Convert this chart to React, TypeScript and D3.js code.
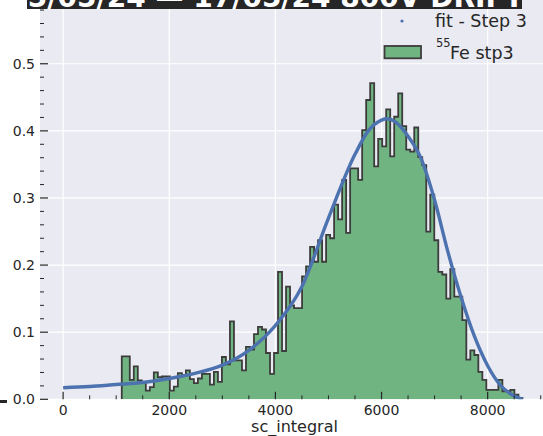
import React from "react";
import * as d3 from "d3";

// ---- data ----
const binStart = 1105;
const binWidth = 75.5;
const histValues = [
  0.064, 0.064, 0.029, 0.049, 0.028, 0.026, 0.013, 0.018, 0.040, 0.033,
  0.034, 0.034, 0.013, 0.019, 0.039, 0.036, 0.043, 0.030, 0.024, 0.031,
  0.038, 0.038, 0.022, 0.041, 0.026, 0.063, 0.052, 0.116, 0.058, 0.058,
  0.043, 0.078, 0.074, 0.097, 0.108, 0.104, 0.069, 0.038, 0.069, 0.190,
  0.072, 0.168, 0.140, 0.136, 0.136, 0.183, 0.198, 0.227, 0.205, 0.237,
  0.205, 0.245, 0.240, 0.290, 0.268, 0.327, 0.248, 0.344, 0.344, 0.327,
  0.401, 0.446, 0.471, 0.347, 0.388, 0.377, 0.432, 0.362, 0.421, 0.456,
  0.407, 0.372, 0.369, 0.405, 0.361, 0.349, 0.250, 0.305, 0.237, 0.190,
  0.186, 0.150, 0.194, 0.153, 0.153, 0.118, 0.059, 0.073, 0.066, 0.041,
  0.029, 0.014, 0.014, 0.014, 0.029, 0.012, 0.012, 0.014, 0.007, 0.002,
];
const fitX = [0, 500, 1000, 1500, 2000, 2500, 3000, 3500, 4000, 4500, 5000, 5500, 5750, 6000, 6100, 6250, 6500, 6750, 7000, 7250, 7500, 7750, 8000, 8250, 8500, 8660];
const fitY = [0.0173, 0.019, 0.022, 0.025, 0.031, 0.039, 0.051, 0.073, 0.110, 0.168, 0.27, 0.365, 0.40, 0.416, 0.418, 0.414, 0.392, 0.358, 0.297, 0.22, 0.152, 0.094, 0.05, 0.02, 0.005, 0.0];
const xMajorTicks = [0, 2000, 4000, 6000, 8000];
const xTickLabels = ["0", "2000", "4000", "6000", "8000"];
const yMajorTicks = [0.0, 0.1, 0.2, 0.3, 0.4, 0.5];
const yTickLabels = ["0.0", "0.1", "0.2", "0.3", "0.4", "0.5"];
const titleText = "15/05/24 — 17/05/24 800V DRIFT";
const xLabelText = "sc_integral";
const legendFitText = "fit - Step 3";
const legendHistSup = "55";
const legendHistText = "Fe stp3";

const FONT = "DejaVu Sans, sans-serif";
const TXT = "#262626";
const BG = "#EAEAF2";
const GREEN = "#70b482";
const BLUE = "#4C72B0";
const EDGE = "#3c3c3c";

export default function App() {
  const W = 543;
  const H = 436;
  const left = 40;
  const right = 549;
  const top = 0;
  const bottom = 399.3;

  const x = d3.scaleLinear().domain([-436, 9156]).range([left, right]);
  const y = d3.scaleLinear().domain([0, 0.595]).range([bottom, top]);

  const edges = d3.range(histValues.length + 1).map((i) => binStart + i * binWidth);
  const stepPts: [number, number][] = [];
  stepPts.push([x(edges[0]), y(0)]);
  histValues.forEach((v, i) => {
    stepPts.push([x(edges[i]), y(v)]);
    stepPts.push([x(edges[i + 1]), y(v)]);
  });
  stepPts.push([x(edges[edges.length - 1]), y(0)]);
  const lineGen = d3.line();
  const outline = lineGen(stepPts) || "";
  const fillPath = outline + "Z";

  const fitLine = d3
    .line<number>()
    .x((_, i) => x(fitX[i]))
    .y((d) => y(d))
    .curve(d3.curveMonotoneX)(fitY) || "";

  const xMinor = d3.range(0, 9001, 500).filter((v) => v % 2000 !== 0);
  const yMinor = d3
    .range(1, 30)
    .map((k) => k * 0.02)
    .filter((v, k) => (k + 1) % 5 !== 0 && v < 0.595);

  return (
    <svg
      width={W}
      height={H}
      style={{ position: "absolute", left: 0, top: 0, background: "#fff" }}
      fontFamily={FONT}
    >
      <defs>
        <clipPath id="plotclip">
          <rect x={left} y={top} width={right - left} height={bottom - top} />
        </clipPath>
      </defs>
      <rect x={left} y={top} width={right - left} height={bottom - top} fill={BG} />
      {/* grid */}
      {xMajorTicks.map((t) => (
        <line key={"gx" + t} x1={x(t)} x2={x(t)} y1={top} y2={bottom} stroke="#fff" strokeWidth={1.2} />
      ))}
      {yMajorTicks.map((t) => (
        <line key={"gy" + t} x1={left} x2={right} y1={y(t)} y2={y(t)} stroke="#fff" strokeWidth={1.2} />
      ))}
      <g clipPath="url(#plotclip)">
        <path d={fillPath} fill={GREEN} stroke="none" />
        <path d={outline} fill="none" stroke={EDGE} strokeWidth={1.8} strokeLinejoin="miter" />
        <path d={fitLine} fill="none" stroke={BLUE} strokeWidth={3.4} />
      </g>
      {/* x ticks */}
      {xMajorTicks.map((t) => (
        <line key={"tx" + t} x1={x(t)} x2={x(t)} y1={bottom} y2={bottom - 7.5} stroke={TXT} strokeWidth={1.2} />
      ))}
      {xMinor.map((t) => (
        <line key={"mx" + t} x1={x(t)} x2={x(t)} y1={bottom} y2={bottom - 4} stroke={TXT} strokeWidth={1} />
      ))}
      {/* y ticks */}
      {yMajorTicks.map((t) => (
        <line key={"ty" + t} x1={left} x2={left + 8} y1={y(t)} y2={y(t)} stroke={TXT} strokeWidth={1.2} />
      ))}
      {yMinor.map((t) => (
        <line key={"my" + t} x1={left} x2={left + 4} y1={y(t)} y2={y(t)} stroke={TXT} strokeWidth={1} />
      ))}
      {/* tick labels */}
      {xMajorTicks.map((t, i) => (
        <text key={"lx" + t} x={x(t)} y={415} fontSize={14} fill={TXT} textAnchor="middle">
          {xTickLabels[i]}
        </text>
      ))}
      {yMajorTicks.map((t, i) => (
        <text key={"ly" + t} x={35} y={y(t) + 5} fontSize={14} fill={TXT} textAnchor="end">
          {yTickLabels[i]}
        </text>
      ))}
      <text x={(left + right) / 2} y={432} fontSize={16} fill={TXT} textAnchor="middle">
        {xLabelText}
      </text>
      {/* legend */}
      <circle cx={402} cy={21} r={1.6} fill={BLUE} />
      <text x={435} y={27} fontSize={17.5} fill={TXT}>
        {legendFitText}
      </text>
      <rect x={384.5} y={46} width={36.5} height={12.3} fill={GREEN} stroke={EDGE} strokeWidth={1.8} />
      <text x={436} y={47} fontSize={11.5} fill={TXT}>
        {legendHistSup}
      </text>
      <text x={450} y={58.5} fontSize={17.5} fill={TXT}>
        {legendHistText}
      </text>
      {/* title (cut off at top) */}
      <rect x={27} y={-30} width={495} height={39} fill="#262626" />
      <text x={266} y={6.5} fontSize={28} fontWeight="bold" fill="#fff" textAnchor="middle">
        {titleText}
      </text>
      <rect x={0} y={400} width={7} height={3} fill="#262626" />
    </svg>
  );
}
